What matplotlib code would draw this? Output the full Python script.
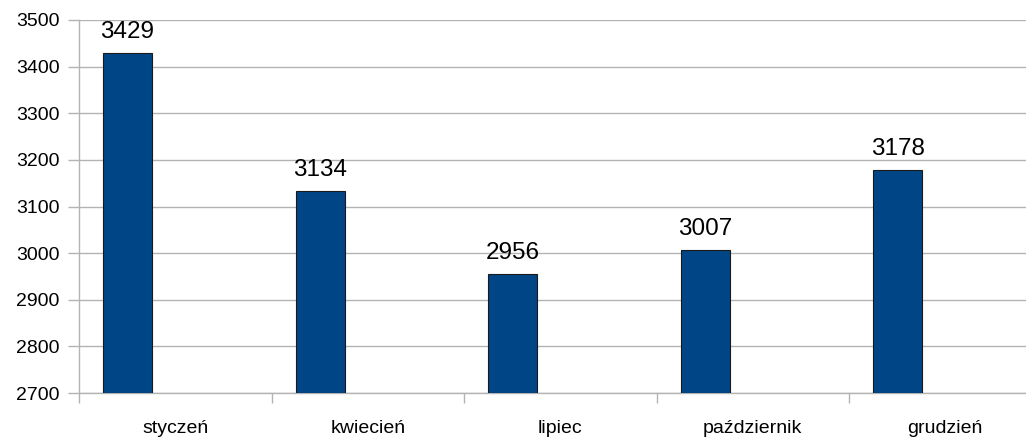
import matplotlib
matplotlib.use('Agg')
import matplotlib.pyplot as plt
import numpy as np

plt.rcParams['font.family'] = ['Liberation Sans', 'DejaVu Sans']

# data
months = ['styczeń', 'kwiecień', 'lipiec', 'październik', 'grudzień']
values = [3429, 3134, 2956, 3007, 3178]

bar_color = '#004586'
grid_color = '#b3b3b3'

fig = plt.figure(figsize=(10.26, 4.38), dpi=100)
# axes runs a bit past the right edge, like the cropped original
ax = fig.add_axes([79 / 1026, 45 / 438, 962.5 / 1026, 373 / 438])

x = np.arange(len(months))
bar_w = 0.2545
offset = -0.248  # bars sit in the left half of each slot
bars = ax.bar(x + offset, [v - 2700 for v in values], bottom=2700, width=bar_w,
              color=bar_color, edgecolor='#1a1a1a', linewidth=0.8, zorder=3)
ax.bar_label(bars, labels=[str(v) for v in values], padding=7, fontsize=17.5)

ax.set_ylim(2700, 3500)
ax.set_yticks(np.arange(2700, 3501, 100))
ax.set_xlim(-0.5, len(months) - 0.5)

# category boundaries get the tick marks, names sit in the middle
ax.set_xticks(np.arange(-0.5, len(months), 1.0))
ax.set_xticklabels([])
ax.set_xticks(x, minor=True)
ax.set_xticklabels(months, minor=True, fontsize=14)
ax.tick_params(axis='x', which='major', length=7.5, color=grid_color, width=1)
ax.tick_params(axis='x', which='minor', length=0, pad=19.5)
ax.tick_params(axis='y', length=8, color=grid_color, width=1, labelsize=14, pad=6)

ax.yaxis.grid(True, color=grid_color, linewidth=1, zorder=0)
ax.set_axisbelow(True)
for side in ['top', 'right']:
    ax.spines[side].set_visible(False)
for side in ['left', 'bottom']:
    ax.spines[side].set_color(grid_color)
    ax.spines[side].set_linewidth(1)

fig.savefig('out.png', dpi=100)
